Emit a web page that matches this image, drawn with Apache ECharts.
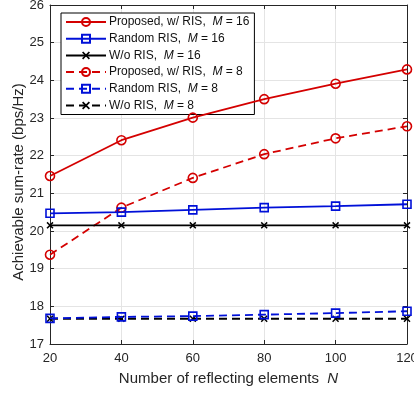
<!DOCTYPE html>
<html><head><meta charset="utf-8">
<script src="https://cdn.jsdelivr.net/npm/echarts@6/dist/echarts.min.js"></script>
<style>html,body{margin:0;padding:0;background:#fff}#c{width:414px;height:396px}</style>
</head><body><div id="c"></div>
<script>
const N = [20, 40, 60, 80, 100, 120];
const yTicks = [17, 26, 1];
const propM16 = [21.46, 22.41, 23.01, 23.50, 23.91, 24.29];
const randM16 = [20.47, 20.50, 20.56, 20.62, 20.66, 20.71];
const woM16   = [20.15, 20.15, 20.15, 20.15, 20.15, 20.15];
const propM8  = [19.37, 20.62, 21.41, 22.04, 22.46, 22.78];
const randM8  = [17.68, 17.72, 17.74, 17.78, 17.82, 17.87];
const woM8    = [17.67, 17.67, 17.67, 17.67, 17.67, 17.67];
const names = [
  ['Proposed, w/ RIS,  ', ' = 16'],
  ['Random RIS,  ', ' = 16'],
  ['W/o RIS,  ', ' = 16'],
  ['Proposed, w/ RIS,  ', ' = 8'],
  ['Random RIS,  ', ' = 8'],
  ['W/o RIS,  ', ' = 8']
];
const RED = '#d40000', BLUE = '#0010d8', BLACK = '#000000';
const FONT = '"Liberation Sans", Arial, sans-serif';
const cross = 'path://M1.5,0 L5,3.5 L8.5,0 L10,1.5 L6.5,5 L10,8.5 L8.5,10 L5,6.5 L1.5,10 L0,8.5 L3.5,5 L0,1.5 Z';
const defs = [
  {d: propM16, c: RED, s: 'circle', z: 9, dash: false},
  {d: randM16, c: BLUE, s: 'rect', z: 8, dash: false},
  {d: woM16, c: BLACK, s: cross, z: 7, dash: false},
  {d: propM8, c: RED, s: 'circle', z: 9, dash: true},
  {d: randM8, c: BLUE, s: 'rect', z: 8, dash: true},
  {d: woM8, c: BLACK, s: cross, z: 7, dash: true}
];
const series = defs.map((o, i) => {
  const isCross = o.s === cross;
  return {
    name: 'S' + i,
    type: 'line',
    data: N.map((x, j) => [x, o.d[j]]),
    symbol: o.s,
    symbolSize: o.z,
    showSymbol: true,
    lineStyle: {color: o.c, width: 1.8, type: o.dash ? [8, 5] : 'solid'},
    itemStyle: isCross ? {color: o.c, borderWidth: 0} : {color: 'rgba(0,0,0,0)', borderColor: o.c, borderWidth: 1.6},
    emphasis: {disabled: true},
    animation: false,
    z: 10 - i
  };
});
const nameMap = {};
defs.forEach((o, i) => { nameMap['S' + i] = names[i]; });
const axisLineStyle = {color: '#262626', width: 1};
const chart = echarts.init(document.getElementById('c'), null, {renderer: 'canvas'});
chart.setOption({
  backgroundColor: '#fff',
  animation: false,
  grid: {left: 50, right: 7, top: 5, bottom: 52, containLabel: false, outerBoundsMode: 'none'},
  legend: {
    orient: 'vertical', left: 61, top: 13,
    padding: [3, 5, 3, 4],
    itemWidth: 40, itemHeight: 10, itemGap: 4.7,
    borderColor: '#000', borderWidth: 1, backgroundColor: '#fff',
    data: defs.map((o, i) => 'S' + i),
    formatter: k => '{n|' + nameMap[k][0] + '}{i|M}{n|' + nameMap[k][1] + '}',
    textStyle: {
      fontFamily: FONT, fontSize: 12, color: '#111', padding: [0, 0, 0, -2],
      rich: {n: {fontFamily: FONT, fontSize: 12, color: '#111'},
             i: {fontFamily: FONT, fontSize: 12, color: '#111', fontStyle: 'italic'}}
    },
    selectedMode: false
  },
  xAxis: [{
    type: 'value', min: 20, max: 120, interval: 20, position: 'bottom',
    name: '{n|Number of reflecting elements  }{i|N}', nameLocation: 'middle', nameGap: 27,
    nameTextStyle: {rich: {n: {fontFamily: FONT, fontSize: 15, color: '#262626'}, i: {fontFamily: FONT, fontSize: 15, color: '#262626', fontStyle: 'italic'}}},
    axisLine: {show: true, lineStyle: axisLineStyle},
    axisTick: {show: true, inside: true, length: 4, lineStyle: axisLineStyle},
    axisLabel: {fontFamily: FONT, fontSize: 13, color: '#262626', margin: 8},
    splitLine: {show: true, lineStyle: {color: '#e4e4e4', width: 1}}
  }, {
    type: 'value', min: 20, max: 120, interval: 20, position: 'top',
    axisLine: {show: true, lineStyle: axisLineStyle},
    axisTick: {show: true, inside: true, length: 4, lineStyle: axisLineStyle},
    axisLabel: {show: false}, splitLine: {show: false}
  }],
  yAxis: [{
    type: 'value', min: yTicks[0], max: yTicks[1], interval: yTicks[2], position: 'left',
    name: 'Achievable sum-rate (bps/Hz)', nameLocation: 'middle', nameGap: 24, nameMoveOverlap: false,
    nameTextStyle: {fontFamily: FONT, fontSize: 15, color: '#262626', padding: [0, 15, 0, 0]},
    axisLine: {show: true, lineStyle: axisLineStyle},
    axisTick: {show: true, inside: true, length: 4, lineStyle: axisLineStyle},
    axisLabel: {fontFamily: FONT, fontSize: 13, color: '#262626', margin: 6},
    splitLine: {show: true, lineStyle: {color: '#e4e4e4', width: 1}}
  }, {
    type: 'value', min: yTicks[0], max: yTicks[1], interval: yTicks[2], position: 'right',
    axisLine: {show: true, lineStyle: axisLineStyle},
    axisTick: {show: true, inside: true, length: 4, lineStyle: axisLineStyle},
    axisLabel: {show: false}, splitLine: {show: false}
  }],
  series: series
});
</script></body></html>
